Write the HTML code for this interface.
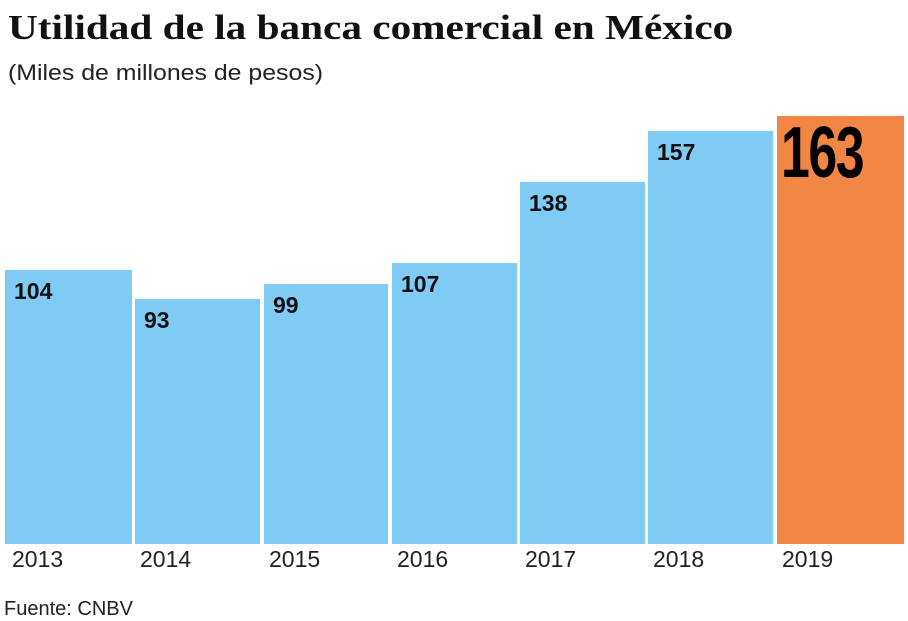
<!DOCTYPE html>
<html><head><style>
body{margin:0;width:908px;height:620px;background:#fff;position:relative;overflow:hidden;font-family:"Liberation Sans",sans-serif;}
.t{position:absolute;left:8px;top:8px;font-family:"Liberation Serif",serif;font-weight:bold;font-size:35px;color:#111;transform:scaleX(1.178);transform-origin:left top;white-space:nowrap}
.s{position:absolute;left:8px;top:60px;font-size:22px;color:#222;transform:scaleX(1.13);transform-origin:left top;white-space:nowrap}
.b{position:absolute;background:#7fcbf3;bottom:76px}
.v{position:absolute;font-weight:bold;font-size:23px;color:#111;left:9px;top:8px}
.y{position:absolute;top:546px;font-size:23px;color:#222}
.f{position:absolute;left:4px;top:598px;font-size:20px;color:#222}
</style></head><body>
<div class="t">Utilidad de la banca comercial en México</div>
<div class="s">(Miles de millones de pesos)</div>
<div class="b" style="left:5px;width:127px;top:270px"><div class="v">104</div></div>
<div class="b" style="left:135px;width:125px;top:299px"><div class="v">93</div></div>
<div class="b" style="left:264px;width:124px;top:284px"><div class="v">99</div></div>
<div class="b" style="left:392px;width:125px;top:263px"><div class="v">107</div></div>
<div class="b" style="left:520px;width:125px;top:182px"><div class="v">138</div></div>
<div class="b" style="left:648px;width:125px;top:131px"><div class="v">157</div></div>
<div class="b" style="left:777px;width:127px;top:116px;background:#f28745"><div style="position:absolute;left:4px;top:-4px;font-weight:bold;font-size:72px;color:#000;transform:scaleX(0.72);transform-origin:left top;letter-spacing:-2px">163</div></div>
<div class="y" style="left:12px">2013</div>
<div class="y" style="left:140px">2014</div>
<div class="y" style="left:269px">2015</div>
<div class="y" style="left:397px">2016</div>
<div class="y" style="left:525px">2017</div>
<div class="y" style="left:653px">2018</div>
<div class="y" style="left:782px">2019</div>
<div class="f">Fuente: CNBV</div>
</body></html>
